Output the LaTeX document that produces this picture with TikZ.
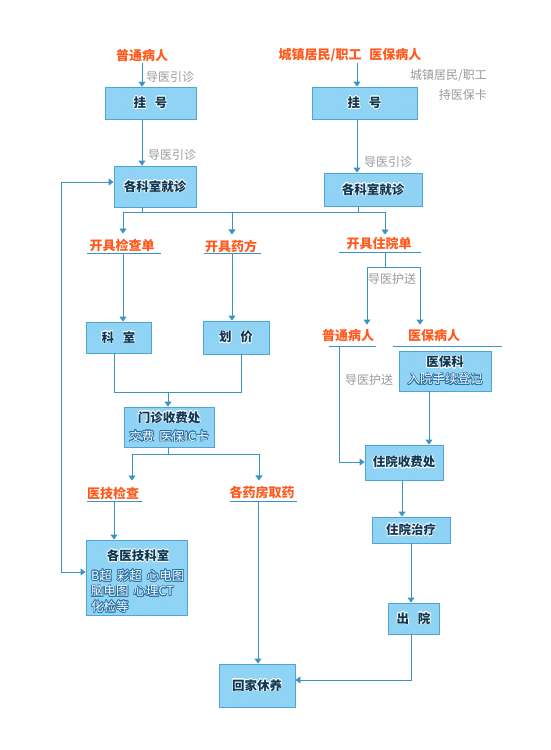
\documentclass[tikz,border=0pt]{standalone}
\usepackage{fontspec}
\setmainfont{Noto Sans CJK SC}
\usepackage{contour}
\contourlength{0.6pt}
\usetikzlibrary{arrows.meta,patterns.meta}
\definecolor{boxfill}{HTML}{8DD2F4}
\definecolor{boxstripe}{HTML}{9BDAF7}
\definecolor{boxline}{HTML}{4FA5D6}
\definecolor{wire}{HTML}{3A93C5}
\definecolor{orng}{HTML}{FF5A1E}
\definecolor{gry}{HTML}{9A9A9A}
\definecolor{navy}{HTML}{0B3754}
\definecolor{halo}{HTML}{2672A6}
\newcommand\bt[1]{\textcolor{navy}{\contour{white}{#1}}}
\newcommand\st[1]{\textcolor{white}{\contour{halo}{#1}}}
\tikzset{
  box/.style={draw=boxline, line width=0.9pt, inner sep=0pt, align=center,
    preaction={fill=boxfill},
    pattern={Lines[angle=45,distance=3pt,line width=0.5pt]}, pattern color=boxstripe,
    font=\fontsize{12.5}{20}\selectfont\bfseries},
  olbl/.style={text=orng, font=\fontsize{13}{15}\selectfont\bfseries, inner sep=1pt},
  glbl/.style={text=gry, font=\fontsize{12}{19}\selectfont, inner sep=1pt},
  wireline/.style={draw=wire, line width=0.9pt},
  arr/.style={wireline, -{Triangle[width=7pt,length=5pt]}},
  dbl/.style={wireline, {Triangle[width=7pt,length=5pt]}-{Triangle[width=7pt,length=5pt]}},
  uline/.style={draw=wire, line width=0.9pt},
}
\begin{document}
\begin{tikzpicture}[x=1pt,y=-1pt]
\fill[white] (0,0) rectangle (550,750);
\useasboundingbox (0,0) rectangle (550,750);

% titles and gray labels
\node[olbl] (t1) at (142,56) {普通病人};
\node[olbl] (t2) at (350,55) {城镇居民/职工\hspace{0.6em}医保病人};
\node[glbl] (g1) at (170,77) {导医引诊};
\node[glbl] (g2) at (172,155) {导医引诊};
\node[glbl] (g3) at (388,162) {导医引诊};
\node[glbl, anchor=east] (g4) at (488,76) {城镇居民/职工};
\node[glbl, anchor=east] (g5) at (488,95) {持医保卡};

% boxes
\node[box, minimum width=91pt, minimum height=32pt] (gh1) at (150.5,103) {\bt{挂\hspace{0.7em}号}};
\node[box, minimum width=105pt, minimum height=32pt] (gh2) at (364.5,103) {\bt{挂\hspace{0.7em}号}};
\node[box, minimum width=82pt, minimum height=41pt] (kz1) at (155,186.5) {\bt{各科室就诊}};
\node[box, minimum width=98pt, minimum height=33pt] (kz2) at (373,189.5) {\bt{各科室就诊}};

\node[olbl] (o1) at (122,245) {开具检查单};
\node[olbl] (o2) at (231,246) {开具药方};
\node[olbl] (o3) at (379,244) {开具住院单};
\coordinate (u1a) at (87,253);  \coordinate (u1b) at (161,253);
\coordinate (u2a) at (204,253); \coordinate (u2b) at (261,253);
\coordinate (u3a) at (339,252); \coordinate (u3b) at (421,252);
\draw[uline] (u1a) -- (u1b);
\draw[uline] (u2a) -- (u2b);
\draw[uline] (u3a) -- (u3b);

\node[box, minimum width=65pt, minimum height=31pt] (ks) at (118.5,337.5) {\bt{科\hspace{0.7em}室}};
\node[box, minimum width=66pt, minimum height=33pt] (hj) at (236,337.5) {\bt{划\hspace{0.7em}价}};
\node[box, minimum width=90pt, minimum height=40pt] (mz) at (169,427) {\bt{门诊收费处}\\[-1pt]{\mdseries\fontsize{12.5}{14}\selectfont\contourlength{0.7pt}\st{交费\hspace{0.4em}医保IC卡}}};

\node[olbl] (yj) at (113,493) {医技检查};
\node[olbl] (yf) at (262,493) {各药房取药};
\coordinate (u4a) at (87,501);  \coordinate (u4b) at (142,501);
\coordinate (u5a) at (230,501); \coordinate (u5b) at (297,501);
\draw[uline] (u4a) -- (u4b);
\draw[uline] (u5a) -- (u5b);

\node[box, minimum width=101pt, minimum height=75pt] (gy) at (136.5,577.5) {};
\node[font=\fontsize{12.5}{15}\selectfont\bfseries, inner sep=0pt] (gyt) at (138,556) {\bt{各医技科室}};
\node[font=\fontsize{12.5}{15.5}\selectfont, align=left, anchor=west, inner sep=0pt] (gys) at (91,591.5)
  {\contourlength{0.7pt}\st{B超\hspace{0.4em}彩超\hspace{0.4em}心电图}\\\contourlength{0.7pt}\st{脑电图\hspace{0.4em}心理CT}\\\contourlength{0.7pt}\st{化检等}};

\node[box, minimum width=76pt, minimum height=43pt] (hx) at (257,685.5) {\bt{回家休养}};

% right side
\node[glbl] (g6) at (392,279) {导医护送};
\node[olbl] (p1) at (348,336) {普通病人};
\node[olbl] (p2) at (434,336) {医保病人};
\coordinate (u6a) at (329,346); \coordinate (u6b) at (376,346);
\coordinate (u7a) at (393,346); \coordinate (u7b) at (502,346);
\draw[uline] (u6a) -- (u6b);
\draw[uline] (u7a) -- (u7b);
\node[glbl] (g7) at (369,380) {导医护送};

\node[box, minimum width=92pt, minimum height=40pt] (yb) at (445,371) {\bt{医保科}\\[-3pt]{\mdseries\fontsize{12.5}{14}\selectfont\contourlength{0.7pt}\st{入院手续登记}}};
\node[box, minimum width=78pt, minimum height=35pt] (zs) at (404,462.5) {\bt{住院收费处}};
\node[box, minimum width=78pt, minimum height=26pt] (zl) at (411,530) {\bt{住院治疗}};
\node[box, minimum width=51pt, minimum height=31pt] (cy) at (413.5,618.5) {\bt{出\hspace{0.7em}院}};

% connectors left column
\draw[arr] (t1.south) -- (t1.south |- gh1.north);
\draw[arr] (gh1.south -| 142,0) -- (kz1.north -| 142,0);
\draw[arr] (t2.south -| 357,0) -- (gh2.north -| 357,0);
\draw[arr] (gh2.south -| 357,0) -- (kz2.north -| 357,0);

\coordinate (busL) at (123,212);
\coordinate (busM) at (232,212);
\coordinate (busR) at (385,212);
\draw[wireline] (kz1.south -| 142,0) -- (142,212);
\draw[wireline] (kz2.south -| 358,0) -- (358,212);
\draw[wireline] (busL) -- (busR);
\draw[arr, shorten >=4pt] (busL) -- (busL |- o1.north);
\draw[arr, shorten >=4pt] (busM) -- (busM |- o2.north);
\draw[arr, shorten >=2pt] (busR) -- (busR |- o3.north);

\draw[arr] (busL |- u1a) -- (busL |- ks.north);
\draw[arr] (busM |- u2a) -- (busM |- hj.north);

\coordinate (m1) at (114,392);
\coordinate (m2) at (241,392);
\coordinate (mm) at (168,392);
\draw[wireline] (ks.south -| m1) -- (m1) -- (m2) -- (hj.south -| m2);
\draw[arr] (mm) -- (mz.north -| mm);

\coordinate (n0) at (168,454);
\coordinate (nL) at (132,454);
\coordinate (nR) at (259,454);
\draw[wireline] (mz.south -| n0) -- (n0);
\draw[wireline] (nL) -- (nR);
\draw[arr, shorten >=5pt] (nL) -- (nL |- yj.north);
\draw[arr, shorten >=5pt] (nR) -- (nR |- yf.north);

\draw[arr] (114,501) -- (gy.north -| 114,0);
\draw[arr] (258,501) -- (hx.north -| 258,0);

\draw[dbl] (gy.west |- 0,572) -- (61,572) -- (61,182) -- (kz1.west |- 0,182);

% connectors right column
\coordinate (r0) at (385,252);
\coordinate (r1) at (385,267);
\coordinate (rL) at (367,267);
\coordinate (rR) at (420,267);
\draw[wireline] (r0) -- (r1);
\draw[wireline] (rL) -- (rR);
\draw[arr, shorten >=4pt] (rL) -- (rL |- p1.north);
\draw[arr, shorten >=4pt] (rR) -- (rR |- p2.north);

\draw[arr] (339,346) -- (339,462) -- (zs.west |- 0,462);
\draw[arr] (yb.south -| 429,0) -- (zs.north -| 429,0);
\draw[arr] (zs.south -| 402,0) -- (zl.north -| 402,0);
\draw[arr] (zl.south -| 411,0) -- (cy.north -| 411,0);
\draw[arr] (cy.south -| 411,0) -- (411,680) -- (hx.east |- 0,680);
\end{tikzpicture}
\end{document}
